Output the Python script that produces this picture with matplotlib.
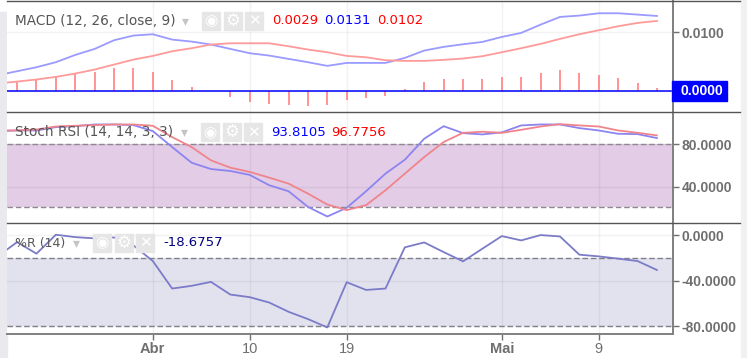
import matplotlib
matplotlib.use("Agg")
import matplotlib.pyplot as plt
from matplotlib.lines import Line2D
from matplotlib.patches import Rectangle

W, H = 747, 358
LEFT, RIGHT = 7, 673

# index of each session, first one is cut off by the left edge
days = list(range(-1, 34))
tick_pos = [7, 12, 17, 25, 30]
tick_labels = ["Abr", "10", "19", "Mai", "9"]
tick_bold = [True, False, False, True, False]

macd_line = [0.00263, 0.00331, 0.0040, 0.00486, 0.00611, 0.00714, 0.00863, 0.00943, 0.00966,
             0.00874, 0.0084, 0.00789, 0.00714, 0.0064, 0.006, 0.00543, 0.00486, 0.00423,
             0.00474, 0.00474, 0.00474, 0.0056, 0.00686, 0.00749, 0.00794, 0.00834, 0.0092,
             0.00989, 0.01131, 0.01263, 0.01286, 0.01326, 0.01326, 0.01303, 0.0128]
macd_signal = [0.0012, 0.00154, 0.00189, 0.00234, 0.00291, 0.0036, 0.00446, 0.00531, 0.00594,
               0.00674, 0.00726, 0.00789, 0.00811, 0.00811, 0.00811, 0.0076, 0.00703, 0.00657,
               0.00594, 0.00571, 0.0052, 0.00509, 0.00509, 0.00526, 0.00549, 0.00589, 0.00657,
               0.00726, 0.008, 0.00886, 0.00966, 0.01034, 0.01103, 0.0116, 0.01194]
macd_hist = [0.0012, 0.00154, 0.00183, 0.00234, 0.00297, 0.00326, 0.00389, 0.00394, 0.00326,
             0.00177, 0.00069, 0.0, -0.00103, -0.00189, -0.00229, -0.00257, -0.00274, -0.00257,
             -0.00171, -0.00126, -0.00086, 0.00029, 0.00154, 0.002, 0.002, 0.002, 0.0024,
             0.0024, 0.00303, 0.00349, 0.00309, 0.00263, 0.00223, 0.00137, 0.00046]

stoch_k = [92.1, 92.7, 92.7, 95.8, 96.7, 98.3, 98.3, 97.7, 92.1, 77.2, 62.6, 56.7, 54.9, 51.2,
           41.6, 36.0, 21.4, 12.4, 20.5, 36.0, 52.4, 65.4, 85.0, 96.7, 90.2, 89.0, 90.9, 97.4,
           98.3, 98.3, 94.9, 92.7, 89.6, 89.3, 85.6]
stoch_d = [92.7, 92.7, 93.6, 96.4, 97.1, 97.7, 98.3, 98.3, 97.1, 86.5, 77.2, 64.8, 58.0, 54.0,
           48.7, 43.1, 33.8, 23.6, 18.4, 23.0, 36.9, 52.4, 67.9, 81.9, 90.5, 91.5, 90.5, 93.3,
           96.4, 98.6, 97.4, 96.4, 92.7, 90.5, 88.1]

will_r = [-18.5, -5.9, -16.1, 0.6, -1.5, -2.6, -1.8, -8.8, -22.6, -46.9, -44.5, -41.0, -52.2,
          -54.5, -59.2, -67.4, -73.8, -81.2, -41.3, -48.1, -46.9, -10.5, -6.2, -14.7, -22.9,
          -11.7, -0.6, -4.4, 0.3, -0.9, -17.0, -18.5, -20.5, -22.6, -30.5]

GREY = "#6f6f6f"
plt.rcParams["font.family"] = ["DejaVu Sans"]

fig = plt.figure(figsize=(W / 100, H / 100), dpi=100, facecolor="white")


def make_axes(top, bottom, ylim, yticks, ylabels):
    ax = fig.add_axes([LEFT / W, 1 - bottom / H, (RIGHT - LEFT) / W, (bottom - top) / H])
    ax.set_xlim(-0.52, 33.83)
    ax.set_ylim(*ylim)
    ax.set_xticks(tick_pos)
    ax.set_xticklabels([])
    ax.set_yticks(yticks)
    ax.set_yticklabels(ylabels, family="Liberation Sans", weight="bold", fontsize=10, color=GREY)
    ax.yaxis.tick_right()
    ax.tick_params(axis="y", length=4, width=1, color=GREY, pad=2)
    ax.tick_params(axis="x", length=0)
    ax.grid(True, color="black", alpha=0.05, lw=1)
    ax.set_axisbelow("line")
    ax.spines["left"].set_visible(False)
    ax.spines["top"].set_visible(False)
    ax.spines["bottom"].set_visible(False)
    ax.spines["right"].set_color("#7f7f7f")
    ax.spines["right"].set_linewidth(1.4)
    return ax


def header(y, name, size, arrow_x, box_x, values):
    # indicator name, dropdown arrow, the three grey buttons and the live values
    fig.text(15 / W, 1 - y / H, name, fontsize=size, color="#555555", va="center", zorder=6)
    fig.text(arrow_x / W, 1 - y / H, "▾", fontsize=10, color="#c4c4c4", ha="center", va="center", zorder=6)
    for i, (glyph, gsize) in enumerate([("◉", 11), ("⚙", 12), ("✕", 11)]):
        bx = box_x + i * 21.7
        fig.add_artist(Rectangle((bx / W, 1 - (y + 9) / H), 18 / W, 18 / H, color="#e6e6e6",
                                 transform=fig.transFigure, zorder=5))
        fig.text((bx + 9) / W, 1 - y / H, glyph, color="white", fontsize=gsize,
                 ha="center", va="center", zorder=6)
    for vx, txt, col in values:
        fig.text(vx / W, 1 - y / H, txt, color=col, fontsize=9.5, va="center", zorder=6)


# MACD
ax1 = make_axes(0.5, 111.5, (-0.00360, 0.01545), [0.0, 0.01], ["", "0.0100"])
ax1.vlines(days, 0, macd_hist, color="#ff8080", lw=1.2)
ax1.axhline(0, color="#0000ff", lw=1.1, xmax=0.997)
ax1.plot(days, macd_line, color="#9a9aff", lw=1.3)
ax1.plot(days, macd_signal, color="#ff9a9a", lw=1.3)
fig.add_artist(Rectangle((672 / W, 1 - 100.5 / H), 55 / W, 19.5 / H, color="#0000ff",
                         transform=fig.transFigure, zorder=6))
fig.text(701.5 / W, 1 - 91 / H, "0.0000", color="white", fontsize=10, weight="bold",
         family="Liberation Sans", ha="center", va="center", zorder=7)

# Stoch RSI
ax2 = make_axes(111.5, 222.5, (6.8, 110.4), [40, 80], ["40.0000", "80.0000"])
ax2.axhspan(21.7, 80, color="#e3cce6", lw=0)
for lvl in [21.7, 80]:
    ax2.axhline(lvl, color="#8f8890", lw=1, ls=(0, (4, 2)))
ax2.plot(days, stoch_k, color="#8c84f0", lw=1.3)
ax2.plot(days, stoch_d, color="#f0848c", lw=1.3)

# Williams %R
ax3 = make_axes(222.5, 334, (-87, 11.4), [0, -40, -80], ["0.0000", "-40.0000", "-80.0000"])
ax3.axhspan(-80, -19.6, color="#e2e2ef", lw=0)
for lvl in [-19.6, -80]:
    ax3.axhline(lvl, color="#80808a", lw=1, ls=(0, (4, 2)))
ax3.plot(days, will_r, color="#7b7bc8", lw=1.3)
ax3.spines["bottom"].set_visible(True)
ax3.spines["bottom"].set_color("#808080")
ax3.spines["bottom"].set_linewidth(1.4)
ax3.tick_params(axis="x", length=4, width=1, color=GREY, pad=2)
ax3.set_xticklabels(tick_labels)
for lab, bold in zip(ax3.get_xticklabels(), tick_bold):
    lab.set(family="Liberation Sans", fontsize=10.5, color=GREY, weight="bold" if bold else "normal")

header(21, "MACD (12, 26, close, 9)", 9.8, 185.5, 202,
       [(272, "0.0029", "#ff0000"), (324, "0.0131", "#0000ff"), (377, "0.0102", "#ff0000")])
header(132.5, "Stoch RSI (14, 14, 3, 3)", 9.8, 184, 201,
       [(271, "93.8105", "#0000ff"), (331, "96.7756", "#ff0000")])
header(243, "%R (14)", 9, 76, 93, [(163, "-18.6757", "#000080")])

# panel separators run past the axis, up to the page edge
for sep_y in [0.7, 111.5, 222.5]:
    fig.add_artist(Line2D([LEFT / W, 740 / W], [1 - sep_y / H, 1 - sep_y / H], color="#555555", lw=1,
                          transform=fig.transFigure, zorder=4))

# page furniture around the chart
fig.add_artist(Rectangle((0, 0), 7 / W, 1 - 12 / H, color="#e9e9ee", transform=fig.transFigure, zorder=0))
fig.add_artist(Rectangle((740.5 / W, 0), 6.5 / W, 1, color="#f1f1f3", transform=fig.transFigure, zorder=0))

fig.savefig("out.png", dpi=100)
